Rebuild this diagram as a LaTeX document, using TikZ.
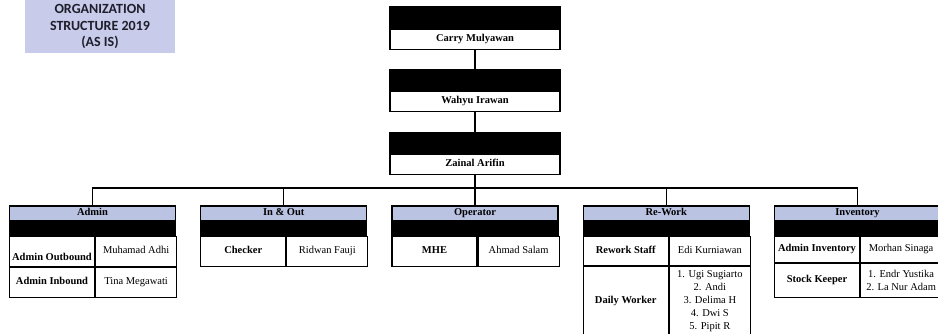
\documentclass[tikz,border=0pt]{standalone}
\usepackage{fontspec}
\setmainfont{Liberation Serif}
\newfontfamily\titlefont{Carlito}
\usetikzlibrary{positioning}
\definecolor{bandblue}{HTML}{BBC3E3}
\definecolor{titlebg}{HTML}{C8CBE9}
\definecolor{titleink}{HTML}{1E1E2C}

\begin{document}
\begin{tikzpicture} [x=1pt, y=-1pt, line width=1.1pt, font=\fontsize{10.5}{13}\selectfont,
  oneline/.style={text height=7.5pt, text depth=2.5pt},
  boss/.style={rectangle, draw, fill=black, minimum width=170pt, minimum height=21pt, inner sep=0pt},
  person/.style={rectangle, draw, fill=white, minimum width=170pt, minimum height=20pt, inner sep=0pt, oneline, font=\fontsize{10.5}{13}\selectfont\bfseries},
  dept/.style={rectangle, draw, fill=bandblue, minimum width=166pt, minimum height=15pt, inner sep=0pt, oneline, font=\fontsize{10.5}{13}\selectfont\bfseries},
  band/.style={rectangle, draw, fill=black, minimum width=166pt, minimum height=13pt, inner sep=0pt},
  post/.style={rectangle, draw, minimum width=85pt, inner sep=0pt, align=center, font=\fontsize{10.5}{13}\selectfont\bfseries},
  staff/.style={rectangle, draw, minimum width=81pt, inner sep=0pt, align=center}]
  \useasboundingbox (0,0) rectangle (938,334);
  %% Title
  \node [fill=titlebg, minimum width=150pt, minimum height=53pt, align=center, text=titleink,
    font=\titlefont\bfseries\fontsize{14}{16.5}\selectfont] (title) at (100,26.5) {ORGANIZATION\\STRUCTURE 2019\\(AS IS)};
  %% Top management
  \node [boss] (ceo) at (475,17.5) {};
  \node [person, below=0pt of ceo] (carry) {Carry Mulyawan};
  \node [boss, below=19pt of carry] (mgr) {};
  \node [person, below=0pt of mgr] (wahyu) {Wahyu Irawan};
  \node [boss, below=20pt of wahyu] (spv) {};
  \node [person, below=0pt of spv] (zainal) {Zainal Arifin};
  %% Departments
  \node [dept] (admin) at (92.5,213.5) {Admin};
  \node [dept, right of=admin, node distance=191.25pt] (inout) {In \& Out};
  \node [dept, right of=inout, node distance=191.25pt] (operator) {Operator};
  \node [dept, right of=operator, node distance=191.25pt] (rework) {Re-Work};
  \node [dept, right of=rework, node distance=191.25pt] (inventory) {Inventory};
  \foreach \d in {admin,inout,operator,rework,inventory}
    \node [band, below=0pt of \d] (\d band) {};
  % Admin
  \node [post, minimum height=30pt, text height=22pt, text depth=3pt, below right=0pt and 0pt of adminband.south west] (outbound) {Admin Outbound};
  \node [staff, oneline, minimum height=30pt, right=0pt of outbound] (adhi) {Muhamad Adhi};
  \node [post, oneline, minimum height=30pt, below=0pt of outbound] (inbound) {Admin Inbound};
  \node [staff, oneline, minimum height=30pt, right=0pt of inbound] (tina) {Tina Megawati};
  % In & Out
  \node [post, oneline, minimum height=30pt, below right=0pt and 0pt of inoutband.south west] (checker) {Checker};
  \node [staff, oneline, minimum height=30pt, right=0pt of checker] (ridwan) {Ridwan Fauji};
  % Operator
  \node [post, oneline, minimum height=30pt, below right=0pt and 0pt of operatorband.south west] (mhe) {MHE};
  \node [staff, oneline, minimum height=30pt, right=0pt of mhe] (ahmad) {Ahmad Salam};
  % Re-Work
  \node [post, oneline, minimum height=29pt, below right=0pt and 0pt of reworkband.south west] (rwstaff) {Rework Staff};
  \node [staff, oneline, minimum height=29pt, right=0pt of rwstaff] (edi) {Edi Kurniawan};
  \node [post, oneline, minimum height=70pt, below=0pt of rwstaff] (daily) {Daily Worker};
  \node [staff, minimum height=70pt, right=0pt of daily] (workers) {1. Ugi Sugiarto\\2. Andi\\3. Delima H\\4. Dwi S\\5. Pipit R};
  % Inventory
  \node [post, oneline, minimum height=26pt, below right=0pt and 0pt of inventoryband.south west] (adminv) {Admin Inventory};
  \node [staff, oneline, minimum height=26pt, right=0pt of adminv] (morhan) {Morhan Sinaga};
  \node [post, oneline, minimum height=34pt, below=0pt of adminv] (keeper) {Stock Keeper};
  \node [staff, minimum height=34pt, right=0pt of keeper] (keepers) {1. Endr Yustika\\2. La Nur Adam};
  % Draw edges
  \coordinate (bus) at (475,188);
  \draw (carry) -- (mgr);
  \draw (wahyu) -- (spv);
  \draw (zainal) -- (bus);
  \foreach \d in {admin,inout,operator,rework,inventory}
    \draw (bus) -| (\d.north);
\end{tikzpicture}
\end{document}
